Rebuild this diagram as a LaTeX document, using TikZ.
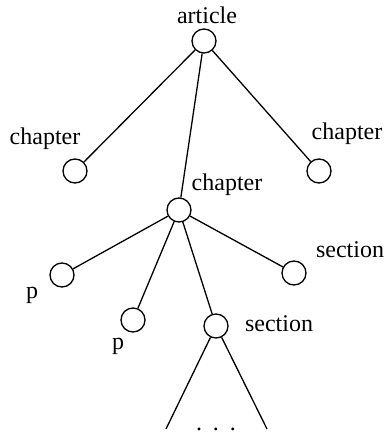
\documentclass[tikz,border=0pt]{standalone}
\usepackage{fontspec}
\setmainfont{Liberation Serif}
\usepackage{tikz}
\usetikzlibrary{positioning}

\begin{document}
\begin{tikzpicture}[x=0.5pt,y=-0.5pt,
  elem/.style={draw,circle,minimum size=12pt,inner sep=0pt,line width=0.65pt},
  tag/.style={inner sep=0pt,font=\fontsize{12}{14}\selectfont},
  every path/.style={line width=0.65pt}]
 \useasboundingbox (0,0) rectangle (387,434);
 % tree nodes
 \node[elem] (art)  at (204,41)  {};
 \node[elem] (chl)  at (75,171)  {};
 \node[elem] (chr)  at (319,171) {};
 \node[elem] (chm)  at (179,210) {};
 \node[elem] (pl)   at (62,275)  {};
 \node[elem] (pm)   at (133,320) {};
 \node[elem] (secm) at (216,326) {};
 \node[elem] (secr) at (294,273) {};
 \coordinate (subl) at (166,429);
 \coordinate (subr) at (267,429);
 % labels
 \node[tag] (tart)  at (207,15)  {article};
 \node[tag] (tchl)  at (45,139)  {chapter};
 \node[tag] (tchr)  at (347,134) {chapter};
 \node[tag] (tchm)  at (227,185) {chapter};
 \node[tag] (tsecr) at (350,250) {section};
 \node[tag] (tpl)   at (32,295)  {p};
 \node[tag] (tpm)   at (118,346) {p};
 \node[tag] (tsecm) at (279,324) {section};
 \node[tag,anchor=base] (dots) at (216,430) {.\hspace{0.45em}.\hspace{0.45em}.};
 % edges
 \draw (art) -- (chl);
 \draw (art) -- (chm);
 \draw (art) -- (chr);
 \draw (chm) -- (pl);
 \draw (chm) -- (pm);
 \draw (chm) -- (secm);
 \draw (chm) -- (secr);
 \draw (secm) -- (subl);
 \draw (secm) -- (subr);
\end{tikzpicture}
\end{document}
